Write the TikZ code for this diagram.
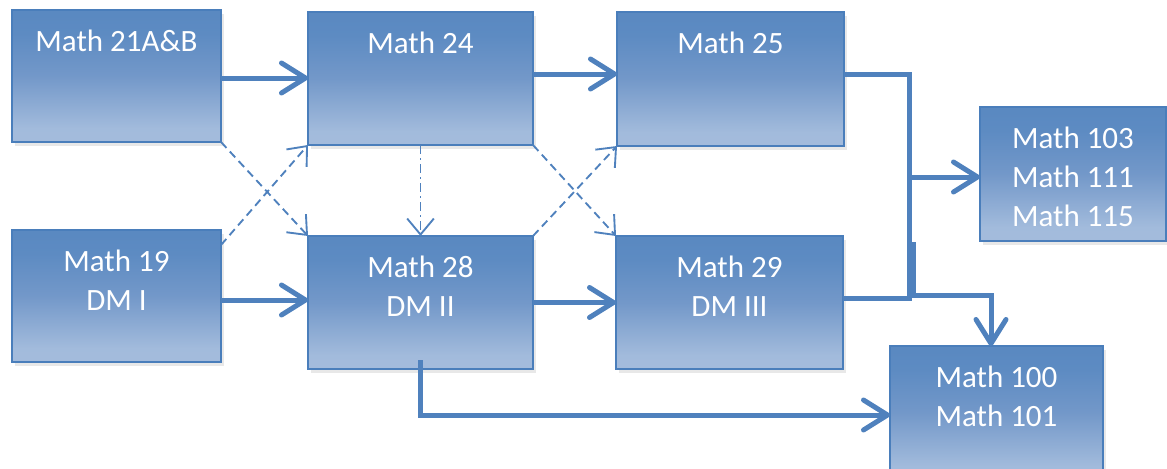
\documentclass[tikz,border=0pt]{standalone}
\usepackage{fontspec}
\setmainfont{Carlito}
\usetikzlibrary{arrows.meta,shadows,calc}
\newlength\pxu \setlength\pxu{0.75pt}
\definecolor{boxdark}{HTML}{4F81BD}
\definecolor{boxmid}{HTML}{7398C9}
\definecolor{boxlight}{HTML}{A5BDDD}
\definecolor{boxedge}{HTML}{4A7EBB}
\definecolor{linkblue}{HTML}{4F81BD}
\pgfdeclareverticalshading{boxshade}{100bp}{color(0bp)=(boxlight); color(30bp)=(boxlight!97!boxdark); color(50bp)=(boxmid); color(66bp)=(boxdark!92!white); color(100bp)=(boxdark)}
\newcommand\boxtext[3]{\parbox[c][#2\pxu][t]{#1\pxu}{\centering\vspace*{14.5\pxu}\strut #3\par}}
\tikzset{
  course/.style={draw=boxedge, line width=1.125pt, shading=boxshade, inner sep=0pt, outer sep=0pt,
    anchor=north west, text=white, font=\fontsize{23.25pt}{29.25pt}\selectfont,
    drop shadow={opacity=0.18, shadow xshift=2.25pt, shadow yshift=-3pt}},
  conn/.style={draw=linkblue, line width=3.75pt},
  bigtip/.style={-{Straight Barb[length=18pt,width=22.5pt,round]}},
  weak/.style={draw=linkblue, line width=1.4pt, dash pattern=on 6pt off 3.75pt,
    -{Straight Barb[length=12pt,width=20pt]}},
  weakdot/.style={weak, dash pattern=on 6.75pt off 3pt on 1.5pt off 3pt},
}
\begin{document}
\begin{tikzpicture}[x=0.75pt,y=-0.75pt]
\useasboundingbox (0,0) rectangle (1167,468);
% boxes
\node[course] (A) at (12,10)  {\boxtext{209}{132}{Math 21A\&B}};
\node[course] (B) at (308,12) {\boxtext{225}{133}{Math 24}};
\node[course] (C) at (617,12) {\boxtext{227}{134}{Math 25}};
\node[course] (D) at (12,230) {\boxtext{209}{132}{Math 19\\DM I}};
\node[course] (E) at (308,236) {\boxtext{225}{133}{Math 28\\DM II}};
\node[course] (F) at (616,236) {\boxtext{227}{133}{Math 29\\DM III}};
\node[course] (G) at (980,107) {\boxtext{186}{134}{Math 103\\Math 111\\Math 115}};
\node[course] (H) at (890,346) {\boxtext{213}{134}{Math 100\\Math 101}};
% solid horizontal arrows
\draw[conn,bigtip] ([yshift=-1.5pt]A.east) -- ([yshift=-1.5pt]A.east -| B.west);
\draw[conn,bigtip] ([yshift=3.375pt]B.east) -- ([yshift=3.375pt]B.east -| C.west);
\draw[conn,bigtip] ([yshift=-3pt]D.east) -- ([yshift=-3pt]D.east -| E.west);
\draw[conn,bigtip] (E.east) -- (E.east -| F.west);
% merge to G
\coordinate (jb) at (909,298);
\coordinate (jm) at (907,177);
\draw[conn] ([yshift=3.75pt]C.east) -| (jb) -- (jb -| F.east);
\draw[conn,bigtip] (jm) -- (jm -| G.west);
% branch to H
\coordinate (k1) at (913,242);
\coordinate (k2) at (991,295);
\draw[conn,bigtip] (k1) |- (k2) -- (k2 |- H.north);
% from E down to H
\draw[conn,bigtip] ([yshift=6.75pt]E.south) |- ([yshift=-1.5pt]H.west);
% dashed arrows
\draw[weak] (A.south east) -- (E.north west);
\draw[weak] ([yshift=-11.25pt]D.north east) -- (B.south west);
\draw[weakdot] (B.south) -- (E.north);
\draw[weak] (B.south east) -- (F.north west);
\draw[weak] (E.north east) -- (C.south west);
\end{tikzpicture}
\end{document}
